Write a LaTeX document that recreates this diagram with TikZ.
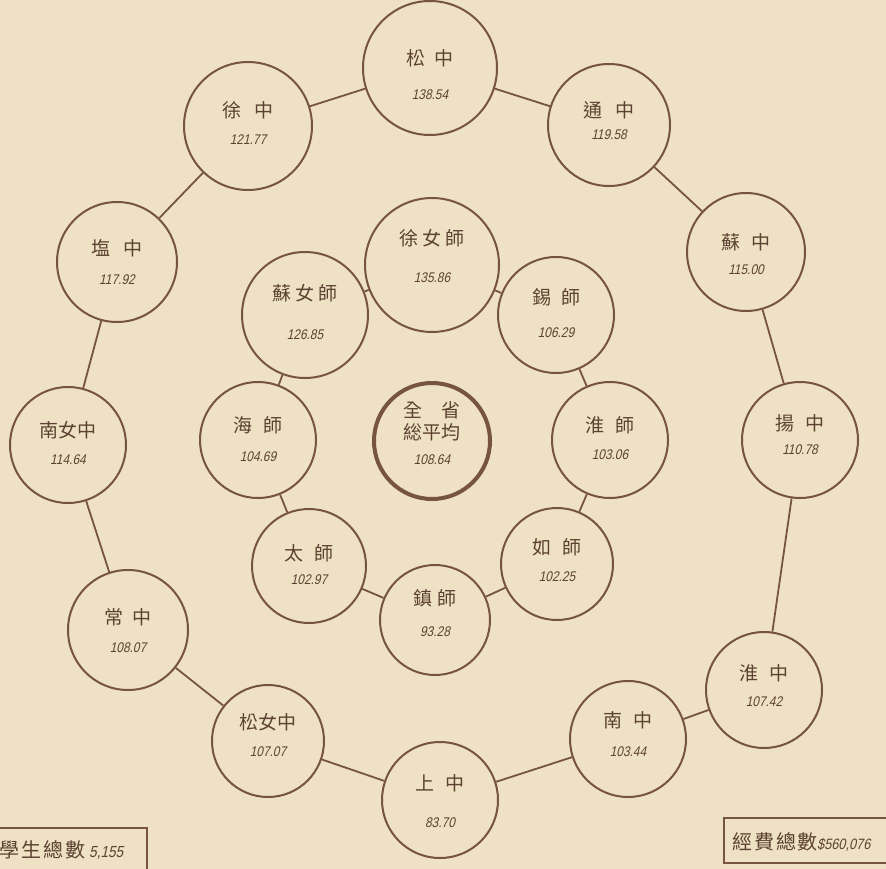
\documentclass[tikz,border=0pt]{standalone}
\usepackage{fontspec}
\newfontfamily\cjk{Noto Sans CJK TC}
\newfontfamily\numf[FakeSlant=0.22,FakeStretch=0.85]{Liberation Sans}
\definecolor{paper}{HTML}{EFE1C3}
\definecolor{ink}{HTML}{76543F}
\definecolor{txt}{HTML}{5C4232}
\tikzset{
  circ/.style={circle, draw=ink, line width=2pt, inner sep=0pt},
  conn/.style={draw=ink, line width=1.8pt},
  lbl/.style={font=\cjk\fontsize{19}{20}\selectfont, text=txt, inner sep=0pt},
  val/.style={font=\numf\fontsize{14}{14}\selectfont, text=txt, inner sep=0pt},
  boxlbl/.style={font=\cjk\fontsize{20}{20}\selectfont, text=txt, inner sep=0pt},
}
% id, x, y, diameter, name, nameY, value, valueY
\newcommand\rnode[8]{%
  \node[circ, minimum size=#4pt] (#1) at (#2,#3) {};
  \node[lbl] (#1n) at (#2,#6) {#5};
  \node[val] (#1v) at (#2,#8) {#7};
}
\begin{document}
\begin{tikzpicture}[x=1pt,y=-1pt]
\fill[paper] (0,0) rectangle (886,869);
\useasboundingbox (0,0) rectangle (886,869);
\clip (0,0) rectangle (886,869);

% outer ring
\rnode{a1}{430}{68}{134}{松\hspace{10pt}中}{58}{138.54}{95}
\rnode{a2}{609}{125}{122}{通\hspace{14pt}中}{110}{119.58}{135}
\rnode{a3}{746}{252}{118}{蘇\hspace{11pt}中}{242}{115.00}{270}
\rnode{a4}{800}{440}{116}{揚\hspace{12pt}中}{423}{110.78}{450}
\rnode{a5}{764}{690}{116}{淮\hspace{12pt}中}{673}{107.42}{702}
\rnode{a6}{628}{739}{116}{南\hspace{12pt}中}{720}{103.44}{752}
\rnode{a7}{440}{800}{116}{上\hspace{12pt}中}{783}{83.70}{823}
\rnode{a8}{268}{741}{112}{松女中}{722}{107.07}{752}
\rnode{a9}{128}{630}{120}{常\hspace{10pt}中}{617}{108.07}{648}
\rnode{a10}{68}{445}{116}{南女中}{430}{114.64}{460}
\rnode{a11}{117}{262}{120}{塩\hspace{14pt}中}{248}{117.92}{280}
\rnode{a12}{248}{126}{128}{徐\hspace{14pt}中}{110}{121.77}{140}

% inner ring
\rnode{b1}{432}{265}{134}{徐\hspace{4pt}女\hspace{4pt}師}{238}{135.86}{278}
\rnode{b2}{556}{315}{116}{錫\hspace{10pt}師}{297}{106.29}{333}
\rnode{b3}{610}{440}{116}{淮\hspace{12pt}師}{425}{103.06}{455}
\rnode{b4}{557}{564}{112}{如\hspace{12pt}師}{547}{102.25}{577}
\rnode{b5}{435}{620}{110}{鎮\hspace{6pt}師}{598}{93.28}{632}
\rnode{b6}{309}{566}{114}{太\hspace{12pt}師}{553}{102.97}{580}
\rnode{b7}{258}{440}{116}{海\hspace{12pt}師}{425}{104.69}{457}
\rnode{b8}{305}{315}{126}{蘇\hspace{4pt}女\hspace{4pt}師}{293}{126.85}{335}

% centre
\node[circ, line width=4pt, minimum size=116pt] (c) at (432,441) {};
\node[lbl] (cn1) at (432,410) {全\hspace{19pt}省};
\node[lbl] (cn2) at (432,432) {総平均};
\node[val] (cv) at (432,460) {108.64};

% outer connectors
\foreach \p/\q in {a1/a2,a2/a3,a3/a4,a4/a5,a5/a6,a6/a7,a7/a8,a8/a9,a9/a10,a10/a11,a11/a12,a12/a1}
  \draw[conn] (\p) -- (\q);
% inner connectors
\foreach \p/\q in {b1/b2,b2/b3,b3/b4,b4/b5,b5/b6,b6/b7,b7/b8,b8/b1}
  \draw[conn] (\p) -- (\q);

% bottom boxes
\draw[ink, line width=1.6pt] (-5,828) rectangle (147,875);
\node[anchor=west, inner sep=0pt] (lb) at (-1,850)
  {\tikz[baseline]{\node[boxlbl,anchor=base west,inner sep=0pt] {學\hspace{2pt}生\hspace{2pt}總\hspace{2pt}數};}\hspace{4pt}{\numf\fontsize{16}{16}\selectfont\color{txt}5,155}};
\draw[ink, line width=1.6pt] (724,818) rectangle (895,863);
\node[anchor=west, inner sep=0pt] (rb) at (732,842)
  {\tikz[baseline]{\node[boxlbl,anchor=base west,inner sep=0pt] {經\hspace{2pt}費\hspace{2pt}總\hspace{1pt}數};}{\numf\fontsize{15}{15}\selectfont\color{txt}\$560,076}};
\end{tikzpicture}
\end{document}
